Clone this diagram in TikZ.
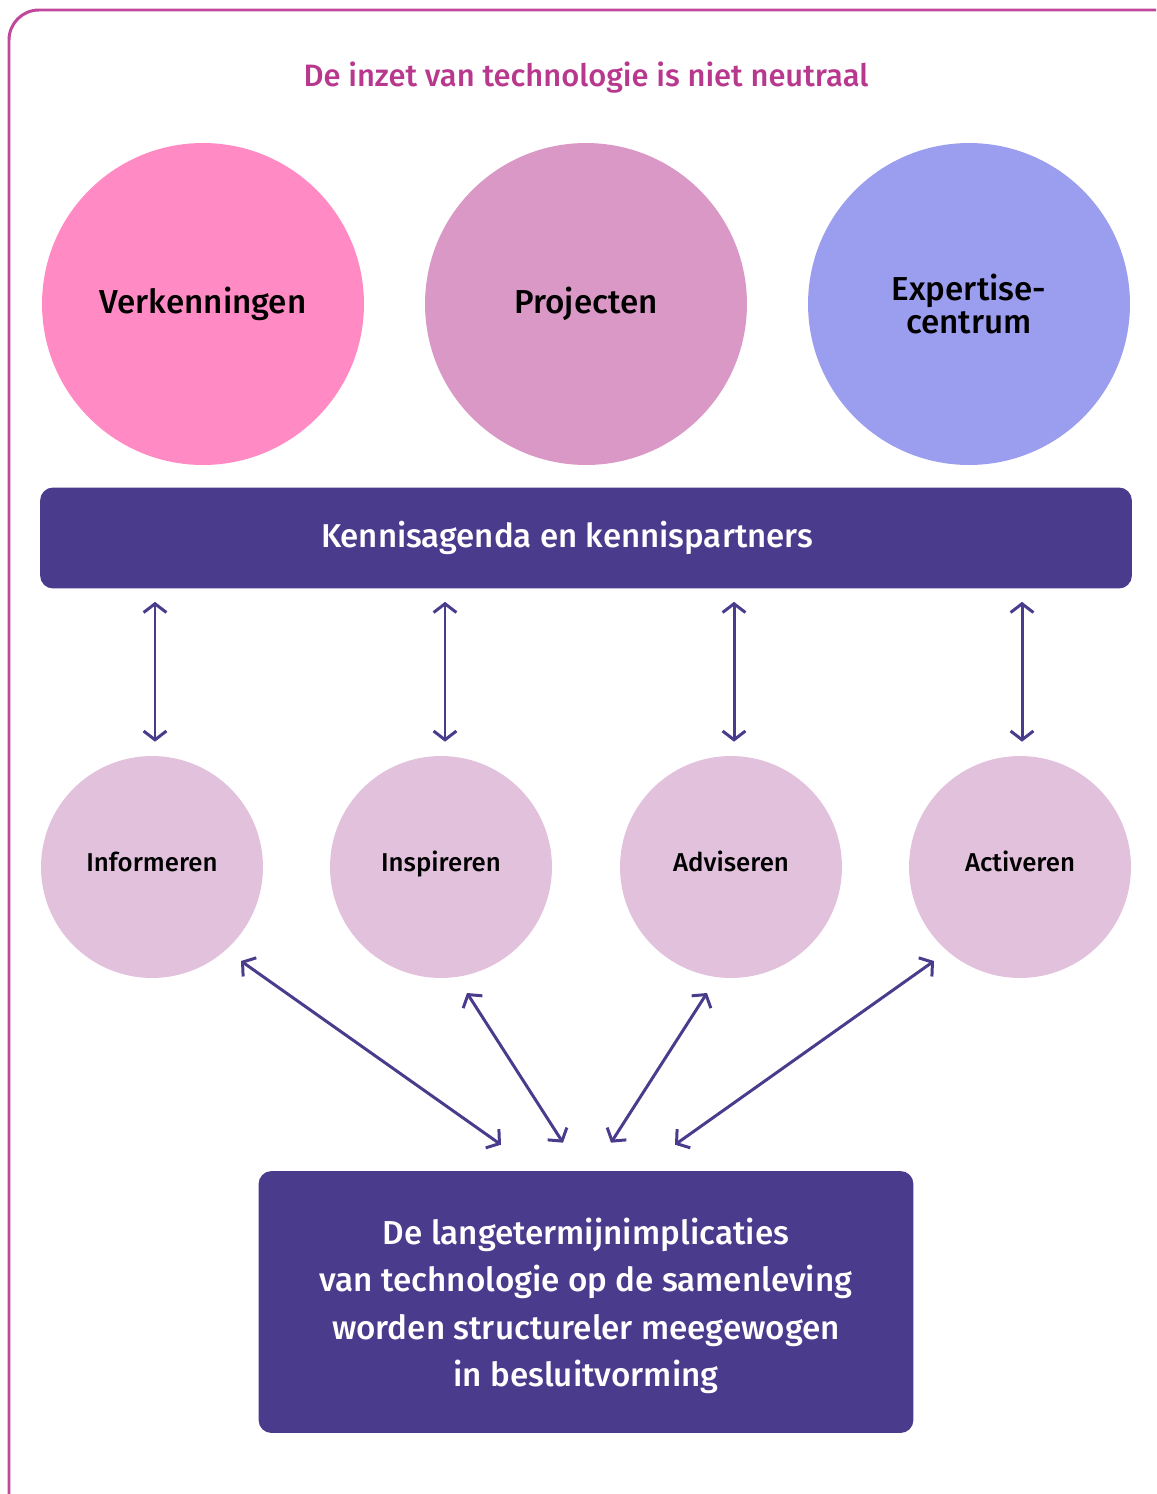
\documentclass[tikz,border=0pt]{standalone}
\usepackage{fontspec}
\setmainfont{Fira Sans}[BoldFont={Fira Sans Medium}]
\usepackage{tikz}
\usetikzlibrary{arrows.meta}

\definecolor{rahmen}{HTML}{C0489B}
\definecolor{titel}{HTML}{B8388E}
\definecolor{paars}{HTML}{4B3B8C}
\definecolor{roze}{HTML}{FF8AC4}
\definecolor{oud}{HTML}{D998C5}
\definecolor{lila}{HTML}{9B9DEE}
\definecolor{licht}{HTML}{E2C1DD}

\tikzset{
  groot/.style={circle, inner sep=0pt, minimum size=6.44cm, align=center,
    font=\bfseries\fontsize{18.9}{20}\selectfont},
  klein/.style={circle, inner sep=0pt, minimum size=4.44cm, fill=licht,
    text height=0.72em, text depth=0.22em,
    font=\bfseries\fontsize{14.7}{16}\selectfont},
  balk/.style={fill=paars, rounded corners=0.26cm, inner sep=0pt},
  witte/.style={text=white, align=center, inner sep=0pt},
  pijl/.style={draw=paars, line width=1.7pt, {Straight Barb[length=5pt,width=13pt]}-{Straight Barb[length=5pt,width=13pt]}}
}

\begin{document}
\begin{tikzpicture}[x=0.02cm, y=-0.02cm]
\useasboundingbox (0,0) rectangle (1156,1494);
\clip (0,0) rectangle (1156,1494);
\draw[rahmen, line width=1.7pt, rounded corners=0.6cm] (9,10) rectangle (1190,1530);

\node[text=titel, font=\bfseries\fontsize{17.6}{19}\selectfont] (titel) at (586,78) {De inzet van technologie is niet neutraal};

% drie pijlers
\node[groot, fill=roze] (verk) at (203,304) {Verkenningen};
\node[groot, fill=oud] (proj) at (586,304) {Projecten};
\node[groot, fill=lila] (exp) at (969,304) {Expertise-\\[-1pt]centrum};

\node[balk, minimum width=21.84cm, minimum height=2.02cm] (kennis) at (586,538) {};
\node[witte, font=\bfseries\fontsize{18.8}{20}\selectfont] (kennistekst) at ([xshift=-0.38cm]kennis.center) {Kennisagenda en kennispartners};

% vier rollen
\node[klein] (inf) at (152,867) {Informeren};
\node[klein] (insp) at (441,867) {Inspireren};
\node[klein] (adv) at (731,867) {Adviseren};
\node[klein] (act) at (1020,867) {Activeren};

\foreach \r/\dx in {inf/3, insp/4, adv/3, act/2}
  \draw[pijl, shorten <=0.26cm, shorten >=0.28cm] ([xshift=\dx*0.02cm]kennis.south -| \r.north) -- ([xshift=\dx*0.02cm]\r.north);

\node[balk, minimum width=13.1cm, minimum height=5.24cm] (impl) at (586,1302) {};
\node[witte, font=\bfseries\fontsize{18.9}{27}\selectfont] (impltekst) at ([yshift=-0.08cm]impl.center)
  {De langetermijnimplicaties\\van technologie op de samenleving\\worden structureler meegewogen\\in besluitvorming};

\draw[pijl] ([shift={(89,94)}]inf.center) -- ([shift={(-85,-26)}]impl.north);
\draw[pijl] ([shift={(26,126)}]insp.center) -- ([shift={(-23,-28)}]impl.north);
\draw[pijl] ([shift={(-24,126)}]adv.center) -- ([shift={(25,-28)}]impl.north);
\draw[pijl] ([shift={(-86,94)}]act.center) -- ([shift={(89,-26)}]impl.north);
\end{tikzpicture}
\end{document}
